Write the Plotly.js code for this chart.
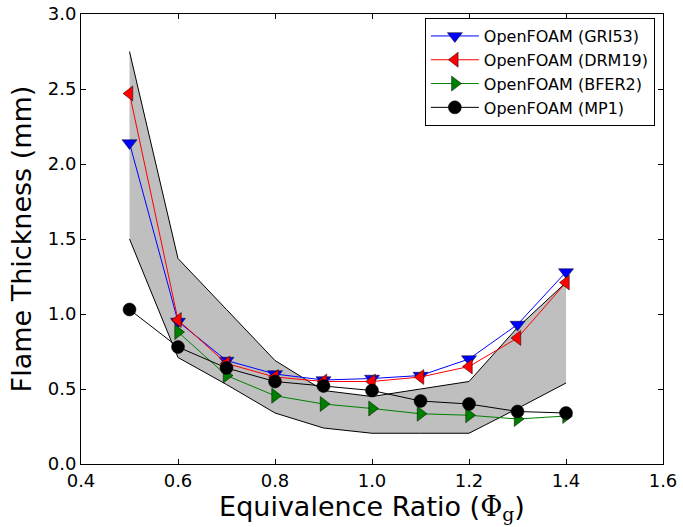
<!DOCTYPE html>
<html>
<head>
<meta charset="utf-8">
<script src="https://cdn.plot.ly/plotly-3.0.1.min.js"></script>
<style>html,body{margin:0;padding:0;background:#fff;}#chart{width:683px;height:527px;}</style>
</head>
<body>
<div id="chart"></div>
<script>
// Equivalence ratio
const phi = [0.5, 0.6, 0.7, 0.8, 0.9, 1.0, 1.1, 1.2, 1.3, 1.4];
const phiBfer = [0.6, 0.7, 0.8, 0.9, 1.0, 1.1, 1.2, 1.3, 1.4];
// Flame thickness (mm)
const gri53 = [2.14, 0.95, 0.69, 0.60, 0.56, 0.57, 0.59, 0.70, 0.93, 1.28];
const drm19 = [2.47, 0.96, 0.67, 0.58, 0.55, 0.55, 0.58, 0.65, 0.84, 1.21];
const bfer2 = [0.88, 0.59, 0.455, 0.40, 0.37, 0.335, 0.325, 0.30, 0.32];
const mp1 = [1.03, 0.78, 0.64, 0.55, 0.52, 0.49, 0.42, 0.40, 0.35, 0.34];
// Shaded band bounds
const bandUpper = [2.75, 1.37, 1.03, 0.69, 0.49, 0.45, 0.50, 0.55, 0.91, 1.21];
const bandLower = [1.50, 0.71, 0.53, 0.34, 0.24, 0.205, 0.205, 0.205, 0.37, 0.54];

const seriesNames = ['OpenFOAM (GRI53)', 'OpenFOAM (DRM19)', 'OpenFOAM (BFER2)', 'OpenFOAM (MP1)'];
const xTicks = [0.4, 0.6, 0.8, 1.0, 1.2, 1.4, 1.6];
const yTicks = [0.0, 0.5, 1.0, 1.5, 2.0, 2.5, 3.0];

const mk = (color, symbol, size) => ({color: color, symbol: symbol, size: size, line: {color: '#000', width: 0.5}});

const traces = [
  {x: phi, y: bandLower, mode: 'lines', line: {color: '#000', width: 1}, showlegend: false, hoverinfo: 'skip'},
  {x: phi, y: bandUpper, mode: 'lines', line: {color: '#000', width: 1}, fill: 'tonexty', fillcolor: '#bfbfbf', showlegend: false, hoverinfo: 'skip'},
  {x: phi, y: gri53, name: seriesNames[0], mode: 'lines+markers', line: {color: '#0000ff', width: 1}, marker: mk('#0000ff', 'triangle-down', 13)},
  {x: phi, y: drm19, name: seriesNames[1], mode: 'lines+markers', line: {color: '#ff0000', width: 1}, marker: mk('#ff0000', 'triangle-left', 13)},
  {x: phiBfer, y: bfer2, name: seriesNames[2], mode: 'lines+markers', line: {color: '#008000', width: 1}, marker: mk('#008000', 'triangle-right', 13)},
  {x: phi, y: mp1, name: seriesNames[3], mode: 'lines+markers', line: {color: '#000000', width: 1}, marker: mk('#000000', 'circle', 13)}
];

const axisCommon = {
  showline: true, linecolor: '#000', linewidth: 1, mirror: 'ticks',
  ticks: 'inside', ticklen: 5, tickcolor: '#000', tickwidth: 1,
  showgrid: false, zeroline: false,
  tickfont: {family: 'DejaVu Sans', size: 18, color: '#000'}
};

const layout = {
  width: 683, height: 527,
  margin: {l: 81, r: 20, t: 14, b: 63},
  paper_bgcolor: '#fff', plot_bgcolor: '#fff',
  font: {family: 'DejaVu Sans', color: '#000'},
  xaxis: Object.assign({}, axisCommon, {
    range: [0.4, 1.6], tickvals: xTicks, ticktext: xTicks.map(v => v.toFixed(1)),
    title: {text: 'Equivalence Ratio (<span style="font-family:\'DejaVu Serif\'">Φ<sub>g</sub></span>)', font: {family: 'DejaVu Sans', size: 27, color: '#000'}, standoff: 5}
  }),
  yaxis: Object.assign({}, axisCommon, {
    range: [0, 3], tickvals: yTicks, ticktext: yTicks.map(v => v.toFixed(1)),
    title: {text: 'Flame Thickness (mm)', font: {family: 'DejaVu Sans', size: 27, color: '#000'}, standoff: 8}
  }),
  legend: {
    x: 0.986, y: 0.991, xanchor: 'right', yanchor: 'top',
    bordercolor: '#000', borderwidth: 1, bgcolor: '#fff',
    font: {family: 'DejaVu Sans', size: 16, color: '#000'},
    traceorder: 'normal', tracegroupgap: 0, itemwidth: 48
  },
  showlegend: true
};

Plotly.newPlot('chart', traces, layout, {displayModeBar: false, staticPlot: true});
</script>
</body>
</html>
